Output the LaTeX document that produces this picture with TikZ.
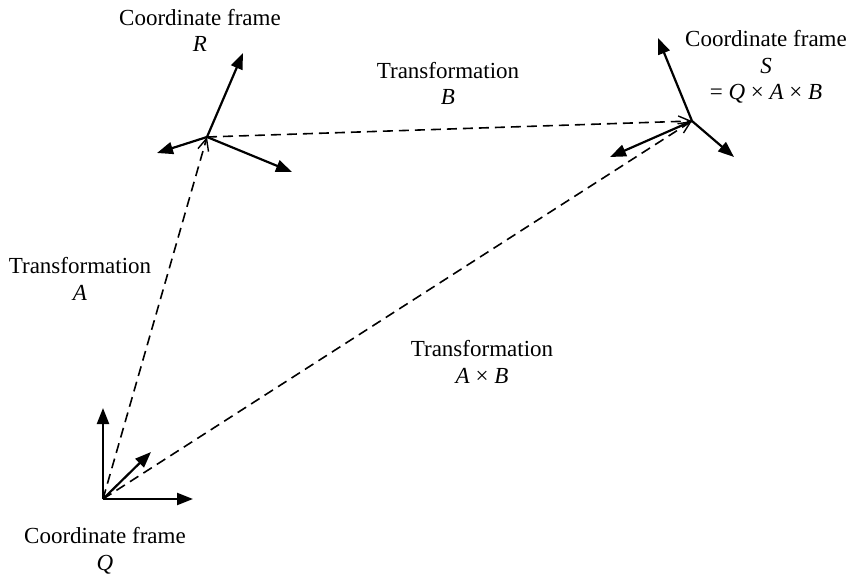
\documentclass[tikz,border=0pt]{standalone}
\usepackage{fontspec}
\setmainfont{Liberation Serif}
\usetikzlibrary{arrows.meta}
\begin{document}
\begin{tikzpicture}[x=1pt,y=-1pt,
  axis/.style={line width=2.2pt,-{Triangle[length=16pt,width=12pt]}},
  xform/.style={line width=1.6pt,dash pattern=on 10pt off 6pt,
    -{Straight Barb[length=12pt,width=11pt,line width=1.4pt]}},
  lbl/.style={align=center,font=\fontsize{23}{26.5}\selectfont,inner sep=0pt,anchor=base}]
\useasboundingbox (0,0) rectangle (853,577);

% frame origins
\coordinate (Q) at (103,499);
\coordinate (R) at (207,137);
\coordinate (S) at (692,121);

% axis tips of frame Q
\coordinate (Qy) at (103,408);
\coordinate (Qx) at (193,499);
\coordinate (Qz) at (151,452);
% axis tips of frame R
\coordinate (Ry) at (243,53);
\coordinate (Rx) at (292,172);
\coordinate (Rz) at (157,153);
% axis tips of frame S
\coordinate (Sy) at (658,38);
\coordinate (Sx) at (734,157);
\coordinate (Sz) at (610,157);

% coordinate axes
\draw[axis] (Q) -- (Qy);
\draw[axis] (Q) -- (Qx);
\draw[axis] (Q) -- (Qz);
\draw[axis] (R) -- (Ry);
\draw[axis] (R) -- (Rx);
\draw[axis] (R) -- (Rz);
\draw[axis] (S) -- (Sy);
\draw[axis] (S) -- (Sx);
\draw[axis] (S) -- (Sz);

% transformations between frames
\draw[xform] (Q) -- (R);
\draw[xform] (R) -- (S);
\draw[xform] (Q) -- (S);

% labels (anchored at the baseline of the last line)
\node[lbl] (lR) at (200,52) {Coordinate frame\\\textit{R}};
\node[lbl] (lB) at (448,105) {Transformation\\\textit{B}};
\node[lbl] (lS) at (766,100) {Coordinate frame\\\textit{S}\\= \textit{Q} × \textit{A} × \textit{B}};
\node[lbl] (lA) at (80,300) {Transformation\\\textit{A}};
\node[lbl] (lAB) at (482,383) {Transformation\\\textit{A} × \textit{B}};
\node[lbl] (lQ) at (105,570) {Coordinate frame\\\textit{Q}};
\end{tikzpicture}
\end{document}
